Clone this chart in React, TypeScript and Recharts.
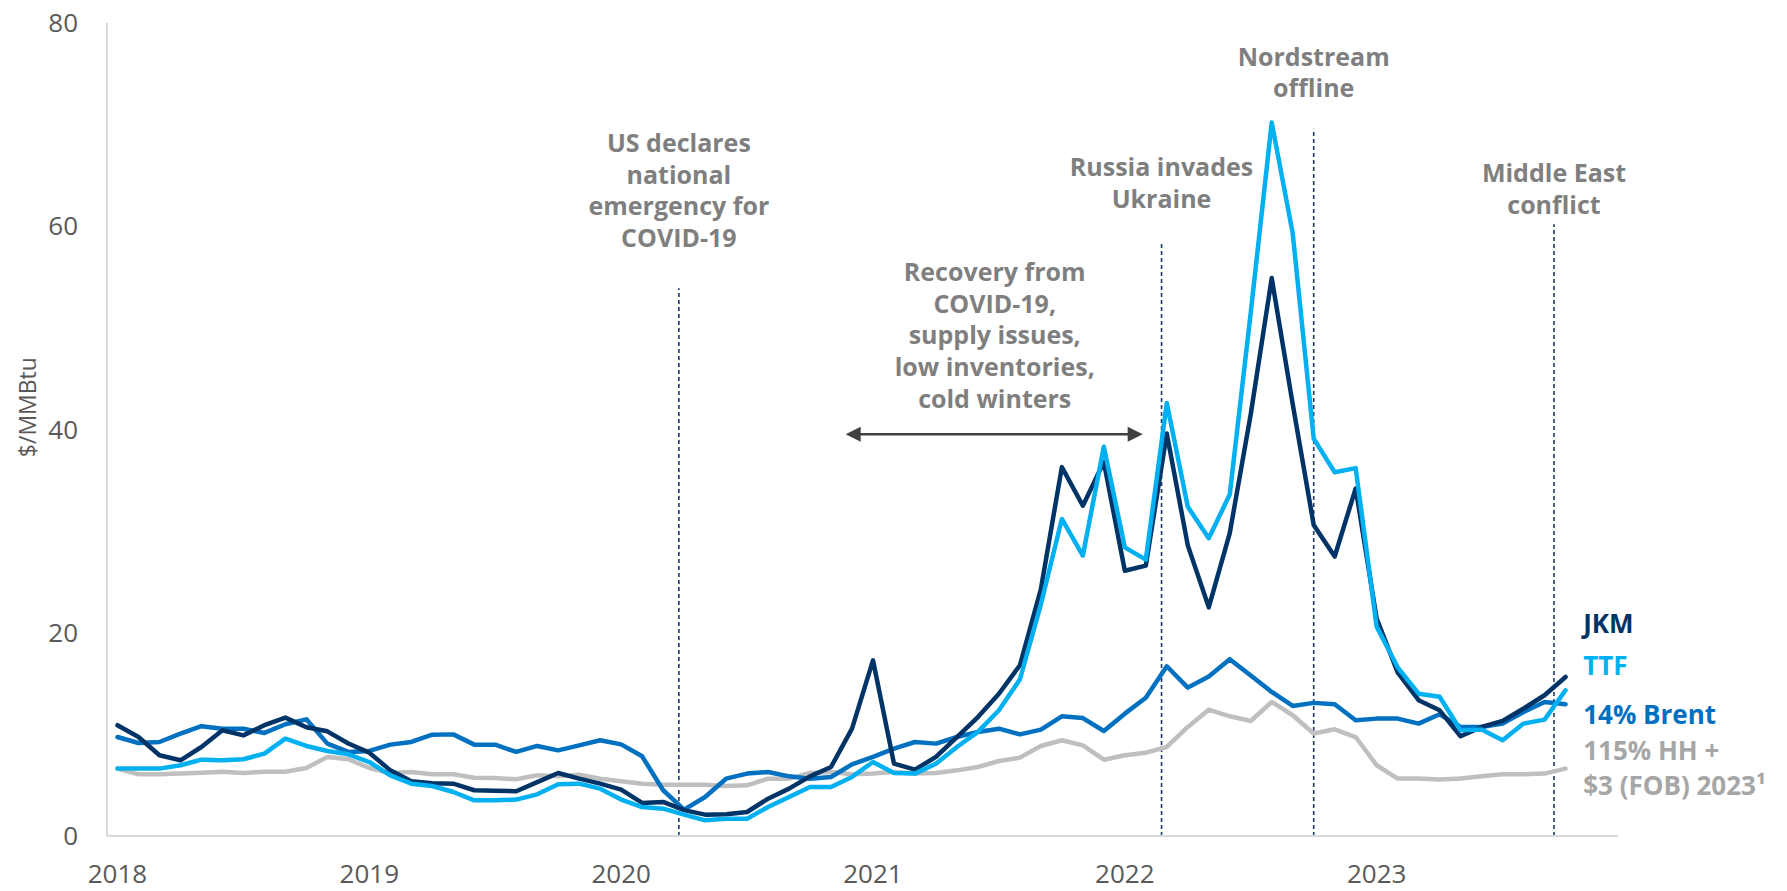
import React from 'react';
import { LineChart, Line, XAxis, YAxis, ReferenceLine, ReferenceDot } from 'recharts';

const yearLabels = ['2018', '2019', '2020', '2021', '2022', '2023'];
const yearTicks = [0, 12, 24, 36, 48, 60];

const jkm = [
  10.9, 9.74, 7.94, 7.45, 8.76, 10.4, 9.9, 10.9, 11.65, 10.7, 10.3, 9.1,
  8.2, 6.46, 5.38, 5.2, 5.15, 4.5, 4.46, 4.4, 5.3, 6.2, 5.64, 5.15,
  4.56, 3.25, 3.35, 2.55, 2.1, 2.13, 2.36, 3.67, 4.66, 5.87, 6.79, 10.56,
  17.29, 7.12, 6.53, 7.78, 9.74, 11.7, 14.0, 16.8, 24.3, 36.3, 32.5, 36.8,
  26.1, 26.6, 39.6, 28.6, 22.5, 29.8, 41.5, 54.9, 42.5, 30.6, 27.5, 34.2,
  21.4, 16.1, 13.36, 12.37, 9.81, 10.73, 11.32, 12.54, 13.85, 15.65,
];

const ttf = [
  6.63, 6.63, 6.63, 6.96, 7.51, 7.45, 7.55, 8.1, 9.58, 8.86, 8.37, 8.04,
  7.28, 5.97, 5.15, 4.92, 4.33, 3.51, 3.51, 3.58, 4.1, 5.09, 5.15, 4.66,
  3.58, 2.85, 2.69, 2.1, 1.54, 1.7, 1.7, 2.85, 3.84, 4.82, 4.82, 5.81,
  7.28, 6.2, 6.14, 7.12, 8.76, 10.24, 12.37, 15.4, 22.8, 31.2, 27.6, 38.3,
  28.4, 27.2, 42.6, 32.4, 29.3, 33.6, 51.5, 70.2, 59.3, 39.1, 35.8, 36.2,
  20.6, 16.6, 14.0, 13.7, 10.4, 10.47, 9.42, 11.06, 11.45, 14.34,
];

const brent = [
  9.74, 9.15, 9.25, 10.07, 10.8, 10.56, 10.56, 10.14, 11.0, 11.48, 9.09, 8.27,
  8.37, 8.99, 9.25, 9.97, 10.0, 8.99, 8.99, 8.27, 8.86, 8.43, 8.92, 9.42,
  9.02, 7.84, 4.5, 2.6, 3.84, 5.64, 6.14, 6.3, 5.87, 5.64, 5.81, 7.05,
  7.78, 8.6, 9.25, 9.09, 9.74, 10.24, 10.56, 10.0, 10.47, 11.78, 11.6, 10.33,
  12.04, 13.6, 16.7, 14.6, 15.7, 17.4, 15.8, 14.17, 12.8, 13.1, 12.96, 11.39,
  11.55, 11.55, 11.06, 11.98, 10.73, 10.73, 11.06, 12.2, 13.19, 12.96,
];

const hh = [
  6.63, 6.07, 6.07, 6.14, 6.23, 6.33, 6.2, 6.33, 6.33, 6.69, 7.78, 7.55,
  6.69, 6.2, 6.3, 6.07, 6.07, 5.74, 5.71, 5.58, 5.97, 5.87, 6.04, 5.64,
  5.38, 5.15, 5.05, 5.05, 5.05, 4.92, 4.99, 5.64, 5.64, 6.2, 6.3, 6.07,
  6.14, 6.3, 6.14, 6.2, 6.46, 6.79, 7.38, 7.71, 8.86, 9.42, 8.92, 7.51,
  7.94, 8.2, 8.76, 10.73, 12.43, 11.78, 11.32, 13.19, 11.88, 10.08, 10.5, 9.74,
  6.96, 5.65, 5.65, 5.55, 5.65, 5.88, 6.07, 6.07, 6.14, 6.63,
];

// event markers: x position (month index), top of dashed line (value), label lines, label first-line value
const events = [
  { x: 26.75, top: 53.9, labelY: 68.2, lines: ['US declares', 'national', 'emergency for', 'COVID-19'] },
  { x: 49.75, top: 58.5, labelY: 65.8, lines: ['Russia invades', 'Ukraine'] },
  { x: 57.0, top: 69.6, labelY: 76.7, lines: ['Nordstream', 'offline'] },
  { x: 68.45, top: 60.2, labelY: 65.2, lines: ['Middle East', 'conflict'] },
];

const recovery = {
  from: 34.7,
  to: 48.85,
  y: 39.54,
  labelX: 41.8,
  labelY: 55.5,
  lines: ['Recovery from', 'COVID-19,', 'supply issues,', 'low inventories,', 'cold winters'],
};

const seriesLabels = [
  { y: 20.9, text: 'JKM', color: '#003366' },
  { y: 16.75, text: 'TTF', color: '#00B0F0' },
  { y: 11.98, text: '14% Brent', color: '#0070C0' },
  { y: 8.39, text: '115% HH +', color: '#A6A6A6' },
  { y: 4.94, text: '$3 (FOB) 2023¹', color: '#A6A6A6' },
];
const seriesLabelX = 69.84;

const yAxisTitle = { text: '$/MMBtu', x: -4.26, y: 42.2 };

const data = jkm.map((v, i) => ({ i, jkm: v, ttf: ttf[i], brent: brent[i], hh: hh[i] }));

const FONT = '"Open Sans", "Noto Sans", sans-serif';
const LH = 31.7;

const MultiText = (lines: string[], color: string) => (p: any) => (
  <g>
    {lines.map((t, k) => (
      <text
        key={k}
        x={p.cx}
        y={p.cy + k * LH}
        dy="0.36em"
        textAnchor="middle"
        fontFamily={FONT}
        fontWeight={700}
        fontSize={25}
        fill={color}
      >
        {t}
      </text>
    ))}
  </g>
);

const ArrowShape = (p: any) => {
  const { x1, y1, x2, y2 } = p;
  const h = 15;
  const w = 7.5;
  return (
    <g>
      <line x1={x1 + h - 2} y1={y1} x2={x2 - h + 2} y2={y2} stroke="#404040" strokeWidth={2.5} />
      <polygon points={`${x1},${y1} ${x1 + h},${y1 - w} ${x1 + h},${y1 + w}`} fill="#404040" />
      <polygon points={`${x2},${y2} ${x2 - h},${y2 - w} ${x2 - h},${y2 + w}`} fill="#404040" />
    </g>
  );
};

const lineProps = {
  strokeWidth: 4.5,
  dot: false,
  isAnimationActive: false,
  strokeLinejoin: 'round' as const,
  strokeLinecap: 'round' as const,
};

export default function App() {
  return (
    <div style={{ position: 'absolute', left: 0, top: 0, background: '#fff' }}>
      <LineChart width={1787} height={891} data={data} margin={{ top: 23, right: 169, bottom: 0, left: 0 }}>
        <XAxis
          dataKey="i"
          type="number"
          domain={[-0.5, 71.5]}
          ticks={yearTicks}
          tickFormatter={(v: number) => yearLabels[yearTicks.indexOf(v)]}
          tickLine={false}
          tickSize={0}
          tickMargin={29}
          height={55}
          axisLine={{ stroke: '#D9D9D9', strokeWidth: 2 }}
          tick={{ fontFamily: FONT, fontSize: 26, fill: '#595959' }}
          allowDataOverflow
        />
        <YAxis
          type="number"
          domain={[0, 80]}
          ticks={[0, 20, 40, 60, 80]}
          width={107}
          tickLine={false}
          tickSize={0}
          tickMargin={29}
          axisLine={{ stroke: '#D9D9D9', strokeWidth: 2 }}
          tick={{ fontFamily: FONT, fontSize: 26, fill: '#595959' }}
        />
        {events.map((e, k) => (
          <ReferenceLine
            key={'l' + k}
            segment={[{ x: e.x, y: 0 }, { x: e.x, y: e.top }]}
            stroke="#1F3864"
            strokeWidth={1.6}
            strokeDasharray="4 3"
            ifOverflow="visible"
          />
        ))}
        <Line dataKey="hh" stroke="#BFBFBF" {...lineProps} />
        <Line dataKey="brent" stroke="#0070C0" {...lineProps} />
        <Line dataKey="jkm" stroke="#003366" {...lineProps} />
        <Line dataKey="ttf" stroke="#00B0F0" {...lineProps} />
        <ReferenceLine
          segment={[{ x: recovery.from, y: recovery.y }, { x: recovery.to, y: recovery.y }]}
          shape={ArrowShape}
          ifOverflow="visible"
        />
        {events.map((e, k) => (
          <ReferenceDot
            key={'t' + k}
            x={e.x}
            y={e.labelY}
            r={0}
            ifOverflow="visible"
            shape={MultiText(e.lines, '#7F7F7F')}
          />
        ))}
        <ReferenceDot
          x={recovery.labelX}
          y={recovery.labelY}
          r={0}
          ifOverflow="visible"
          shape={MultiText(recovery.lines, '#7F7F7F')}
        />
        {seriesLabels.map((s, k) => (
          <ReferenceDot
            key={'s' + k}
            x={seriesLabelX}
            y={s.y}
            r={0}
            ifOverflow="visible"
            shape={(p: any) => (
              <text x={p.cx} y={p.cy} dy="0.36em" textAnchor="start" fontFamily={FONT} fontWeight={700} fontSize={26} fill={s.color}>
                {s.text}
              </text>
            )}
          />
        ))}
        <ReferenceDot
          x={yAxisTitle.x}
          y={yAxisTitle.y}
          r={0}
          ifOverflow="visible"
          shape={(p: any) => (
            <text
              x={p.cx}
              y={p.cy}
              transform={`rotate(-90 ${p.cx} ${p.cy})`}
              textAnchor="middle"
              dy="0.36em"
              fontFamily={FONT}
              fontSize={23}
              fill="#595959"
            >
              {yAxisTitle.text}
            </text>
          )}
        />
      </LineChart>
    </div>
  );
}
